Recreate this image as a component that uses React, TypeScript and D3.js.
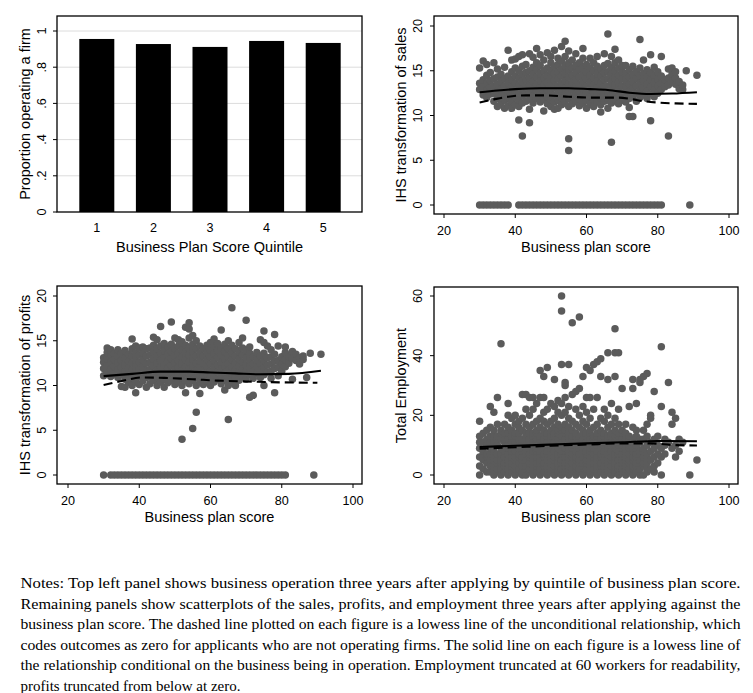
import React from 'react';
import * as d3 from 'd3';

// ---------- DATA ----------
const quintiles = ['1', '2', '3', '4', '5'];
const proportionOperating = [0.956, 0.928, 0.912, 0.945, 0.934];
const proportionTicks = [0, 0.2, 0.4, 0.6, 0.8, 1];
const proportionTickLabels = ['0', '.2', '.4', '.6', '.8', '1'];

const scoreTicks = [20, 40, 60, 80, 100];
const ihsTicks = [0, 5, 10, 15, 20];
const employmentTicks = [0, 20, 40, 60];

// business plan score : observed outcomes
const salesByScore = `
30:12.9,13.6,15.3,0
31:12.3,13.2,14.0,16.1,0
32:12.0,12.8,13.6,14.5,15.7,0
33:12.4,13.1,13.9,14.8,0
34:11.6,12.5,13.3,14.1,15.9,0
35:11.0,11.9,12.7,13.5,14.3,15.2,0
36:11.3,12.2,13.0,13.8,14.6,0
37:10.8,11.7,12.5,13.3,14.1,15.4,0
38:11.1,12.0,12.8,13.6,14.4,17.3,0
39:10.8,11.6,12.4,13.2,14.0,14.9,16.2
40:11.2,12.0,12.8,13.6,14.4,15.3,16.3
41:9.5,11.0,11.8,12.6,13.4,14.2,15.0,16.6,0
42:7.7,11.4,12.2,13.0,13.8,14.6,15.5,16.8,0
43:11.6,12.4,13.2,14.0,14.8,15.7,0
44:9.2,10.7,11.8,12.6,13.4,14.2,15.0,16.9,0
45:11.4,12.2,13.0,13.8,14.6,15.4,16.5,0
46:11.9,12.7,13.5,14.3,15.1,15.9,17.5,0
47:11.5,12.3,13.1,13.9,14.7,15.6,16.8,0
48:10.5,11.8,12.6,13.4,14.2,15.0,16.2,0
49:11.3,12.1,12.9,13.7,14.5,15.3,17.0,0
50:11.0,11.8,12.6,13.4,14.2,15.0,15.9,16.6,0
51:10.7,11.5,12.3,13.1,13.9,14.7,15.5,17.3,0
52:10.8,11.7,12.5,13.3,14.1,14.9,15.7,16.4,0
53:11.2,12.0,12.8,13.6,14.4,15.2,16.1,17.7,0
54:11.5,12.3,13.1,13.9,14.7,15.5,16.6,18.3,0
55:6.1,7.4,11.0,11.9,12.7,13.5,14.3,15.1,15.9,17.2,0
56:11.3,12.1,12.9,13.7,14.5,15.3,16.2,0
57:11.6,12.4,13.2,14.0,14.8,15.6,16.9,0
58:11.1,11.9,12.7,13.5,14.3,15.1,15.9,0
59:11.4,12.2,13.0,13.8,14.6,15.4,16.4,17.5,0
60:10.8,11.7,12.5,13.3,14.1,14.9,15.7,0
61:11.3,12.1,12.9,13.7,14.5,15.3,16.4,0
62:11.0,11.8,12.6,13.4,14.2,15.0,15.9,0
63:11.5,12.3,13.1,13.9,14.7,15.5,16.6,0
64:10.4,11.2,12.0,12.8,13.6,14.4,15.2,0
65:11.6,12.4,13.2,14.0,14.8,15.6,16.9,0
66:10.8,11.7,12.5,13.3,14.1,14.9,15.8,19.1,0
67:7.0,11.4,12.2,13.0,13.8,14.6,15.4,16.6,0
68:11.8,12.6,13.4,14.2,15.0,15.9,17.4,0
69:11.3,12.1,12.9,13.7,14.5,15.3,16.2,0
70:11.7,12.5,13.3,14.1,14.9,15.6,0
71:11.5,12.3,13.1,13.9,14.7,15.6,0
72:9.9,10.9,11.9,12.7,13.5,14.3,15.1,0
73:9.9,12.2,13.0,13.8,14.6,15.5,0
74:11.6,12.5,13.3,14.1,14.9,0
75:12.0,12.8,13.6,14.4,15.3,18.5,0
76:12.3,13.1,13.9,14.7,16.2,0
77:11.9,12.7,13.5,14.3,15.1,0
78:9.4,12.4,13.2,14.0,14.8,16.8,0
79:12.1,12.9,13.7,14.5,15.4,0
80:12.5,13.3,14.1,14.9,0
81:12.9,13.6,14.4,16.6,0
82:13.2,14.0
83:7.7,13.4,14.2,15.2
84:13.8,14.6,15.3
85:13.5,14.2,14.9
86:13.0,13.8
87:12.9,13.4
88:15.0
89:0
91:14.5
`;

const profitsByScore = `
30:11.1,11.9,12.6,13.1,0
31:11.4,12.2,13.0,13.7,14.2
32:11.0,11.8,12.6,13.4,14.0,0
33:11.3,12.1,12.9,13.6,0
34:10.9,11.7,12.5,13.3,14.0,0
35:9.9,11.2,12.0,12.8,13.6,0
36:9.8,10.7,11.5,12.3,13.1,13.9,0
37:10.3,11.1,11.9,12.7,13.5,0
38:10.0,10.9,11.7,12.5,13.3,14.1,15.2,0
39:9.2,10.4,11.2,12.0,12.8,13.6,14.4,0
40:10.1,11.0,11.8,12.6,13.4,14.2,0
41:10.5,11.3,12.1,12.9,13.7,14.3,0
42:9.8,10.9,11.7,12.5,13.3,14.1,0
43:10.2,11.0,11.8,12.6,13.4,14.2,0
44:10.6,11.4,12.2,13.0,13.8,14.5,15.4,0
45:10.0,10.9,11.7,12.5,13.3,14.1,15.1,0
46:10.4,11.2,12.0,12.8,13.6,14.4,16.6,0
47:9.8,10.7,11.5,12.3,13.1,13.9,14.7,0
48:10.3,11.1,11.9,12.7,13.5,14.3,0
49:10.6,11.4,12.2,13.0,13.8,14.6,17.1,0
50:10.1,10.9,11.7,12.5,13.3,14.1,15.3,0
51:10.4,11.2,12.0,12.8,13.6,14.4,15.1,0
52:4.0,10.0,10.8,11.6,12.4,13.2,14.0,14.9,0
53:9.2,10.5,11.3,12.1,12.9,13.7,14.5,16.5,0
54:10.2,11.0,11.8,12.6,13.4,14.2,15.3,16.3,17.0,0
55:5.2,10.6,11.4,12.2,13.0,13.8,14.6,15.6,0
56:7.0,10.0,10.9,11.7,12.5,13.3,14.1,15.0,0
57:9.1,10.4,11.2,12.0,12.8,13.6,14.4,0
58:10.1,10.9,11.7,12.5,13.3,14.1,0
59:10.5,11.3,12.1,12.9,13.7,14.5,0
60:10.0,10.8,11.6,12.4,13.2,14.0,14.8,0
61:10.4,11.2,12.0,12.8,13.6,14.4,15.2,0
62:10.7,11.5,12.3,13.1,13.9,14.7,0
63:10.2,11.0,11.8,12.6,13.4,14.2,16.2,0
64:9.5,10.6,11.4,12.2,13.0,13.8,14.6,0
65:6.2,10.0,10.9,11.7,12.5,13.3,14.1,15.0,0
66:10.5,11.3,12.1,12.9,13.7,14.5,18.7,0
67:10.0,10.9,11.7,12.5,13.3,14.1,0
68:10.6,11.4,12.2,13.0,13.8,14.8,0
69:11.0,11.8,12.6,13.4,14.2,15.3,0
70:10.7,11.5,12.3,13.1,13.9,17.3,0
71:8.7,11.2,12.0,12.8,13.6,14.3,0
72:8.9,10.8,11.6,12.4,13.2,0
73:11.3,12.1,12.9,13.7,0
74:10.9,11.7,12.5,13.3,15.1,0
75:10.0,11.2,12.0,12.8,13.6,14.8,16.1,0
76:11.5,12.3,13.1,14.4,0
77:10.8,11.6,12.4,13.2,14.0,0
78:9.2,11.9,12.7,13.5,15.7,0
79:11.1,12.0,12.8,14.4,0
80:11.6,12.4,13.2,0
81:12.1,12.9,13.7,14.3,0
82:12.5,13.2
83:10.7,13.0,13.8
84:12.8,13.5
85:12.4,13.1
86:12.9,13.3
87:10.9
88:13.6
89:0
91:13.5
`;

const employmentByScore = `
30:0,3,6,9,11,13,18
31:2,5,7,8,11,14
32:1,4,6,7,10,12,15
33:1,3,5,7,9,11,13,16,23
34:0,2,3,5,6,8,11,13,15,21
35:1,2,4,5,7,10,12,13,17,26
36:0,2,4,5,7,9,12,14,15,44
37:1,3,4,6,8,11,12,14,17
38:0,2,4,5,7,9,10,12,14,16,20,24
39:1,3,4,6,8,9,11,13,15,19
40:0,2,3,5,6,8,10,11,13,14,17,20
41:1,2,4,6,7,9,10,12,14,16,18
42:0,1,3,5,6,8,9,11,12,15,19,27
43:0,2,3,5,7,8,10,12,13,14,17,22,27
44:1,2,4,6,7,9,11,12,14,16,20,26
45:0,2,3,5,6,8,10,11,13,14,17,22,26
46:1,3,4,6,8,9,11,12,14,15,18,24
47:0,2,4,5,7,8,10,12,13,16,19,26,35
48:1,3,4,6,7,9,11,12,14,15,18,21,26,33
49:0,2,3,5,7,8,10,11,13,14,17,22,36
50:1,2,4,6,7,9,10,12,13,15,18,24
51:0,2,3,5,6,8,10,11,13,14,16,19,23,32
52:1,3,4,6,7,9,11,12,14,15,17,21,25
53:0,2,4,5,7,8,10,12,13,15,16,20,24,37,55,60
54:1,3,4,6,8,9,11,12,14,15,17,21,26,30,31
55:0,2,3,5,7,8,10,11,13,14,16,19,23,37
56:1,2,4,6,7,9,10,12,13,15,18,27,51
57:0,2,3,5,6,8,10,11,13,14,17,22,28
58:1,2,4,5,7,9,10,12,13,16,20,29,53
59:0,3,4,6,8,9,11,12,14,15,18,23,33
60:1,2,4,5,7,8,10,11,13,14,17,21,26,36
61:0,2,3,5,6,8,9,11,12,14,15,19,26,35
62:1,2,4,6,7,9,10,12,13,16,22,37
63:0,2,3,5,6,8,10,11,13,14,17,26,38
64:1,3,4,6,7,9,11,12,14,15,19,33,39
65:0,2,3,5,7,8,10,11,13,14,18,22
66:1,2,4,5,7,9,10,12,13,16,20,32,41
67:0,2,3,5,6,8,10,11,13,14,17,24
68:1,3,4,6,7,9,10,12,13,15,19,33,41,49
69:0,2,3,5,7,8,10,11,13,14,17,22,41
70:1,2,4,5,7,9,10,12,14,15,29
71:0,2,3,5,6,8,9,11,12,14,17
72:1,2,4,5,7,9,10,12,13,23
73:0,2,3,5,6,8,9,11,12,16,29,32
74:1,3,4,6,7,9,10,13,15,24
75:0,2,4,5,7,8,11,12,31,32
76:0,3,4,6,8,9,12,15,33
77:1,2,4,6,7,10,13,17,34
78:2,5,8,11,19,20
79:1,3,6,9,12,28
80:4,7,10,13
81:0,6,9,23,43
82:7,10,12
83:11,31
84:9,17,21
85:6,10,19
86:8,12
87:11
89:0
91:5
`;

// lowess lines (conditional = solid, unconditional = dashed)
const salesSolidX = [30, 35, 40, 47, 55, 61, 66, 72, 78, 84, 91];
const salesSolidY = [12.6, 12.8, 12.95, 13.05, 13.05, 12.95, 12.85, 12.55, 12.4, 12.45, 12.6];
const salesDashedX = [30, 34, 38, 43, 48, 55, 61, 69, 73, 76, 80, 85, 91];
const salesDashedY = [11.45, 11.8, 12.1, 12.25, 12.25, 12.1, 12.0, 12.0, 11.8, 11.6, 11.45, 11.35, 11.3];

const profitsSolidX = [30, 38, 46, 54, 60, 67, 74, 82, 91];
const profitsSolidY = [11.05, 11.3, 11.55, 11.55, 11.45, 11.35, 11.25, 11.3, 11.65];
const profitsDashedX = [30, 35, 41, 47, 55, 62, 70, 80, 90];
const profitsDashedY = [10.05, 10.5, 10.9, 10.85, 10.7, 10.55, 10.45, 10.35, 10.3];

const employmentSolidX = [30, 40, 50, 60, 70, 80, 91];
const employmentSolidY = [9.4, 9.8, 10.2, 10.6, 11.0, 11.4, 11.3];
const employmentDashedX = [30, 40, 50, 60, 70, 78, 85, 91];
const employmentDashedY = [8.8, 9.3, 9.8, 10.2, 10.6, 10.6, 10.0, 9.9];

const notesLines = [
  'Notes: Top left panel shows business operation three years after applying by quintile of business plan score.',
  'Remaining panels show scatterplots of the sales, profits, and employment three years after applying against the',
  'business plan score. The dashed line plotted on each figure is a lowess line of the unconditional relationship, which',
  'codes outcomes as zero for applicants who are not operating firms. The solid line on each figure is a lowess line of',
  'the relationship conditional on the business being in operation. Employment truncated at 60 workers for readability,',
  'profits truncated from below at zero.',
];

// ---------- HELPERS ----------
type Pt = { x: number; y: number };
function parseCols(s: string): Pt[] {
  return s
    .trim()
    .split('\n')
    .flatMap((line) => {
      const [x, ys] = line.split(':');
      return ys.split(',').map((y) => ({ x: +x, y: +y }));
    });
}
function zip(xs: number[], ys: number[]): Pt[] {
  return xs.map((x, i) => ({ x, y: ys[i] }));
}

const SANS = 'Liberation Sans, Arial, Helvetica, sans-serif';
const SERIF = 'Liberation Serif, Times New Roman, serif';
const DOT = '#5b5b5b';
const TICK_FS = 12.6;
const TITLE_FS = 14.5;

type Frame = { x0: number; x1: number; y0: number; y1: number };

function YAxis({ frame, scale, ticks, labels, labelX, title, titleX }: any) {
  const cy = (frame.y0 + frame.y1) / 2;
  return (
    <g>
      {ticks.map((t: number, i: number) => (
        <g key={t}>
          <line x1={frame.x0 - 4} x2={frame.x0} y1={scale(t)} y2={scale(t)} stroke="#000" strokeWidth={1} />
          <text
            transform={`translate(${labelX},${scale(t)}) rotate(-90)`}
            textAnchor="middle"
            fontFamily={SANS}
            fontSize={TICK_FS}
            fill="#000"
          >
            {labels ? labels[i] : String(t)}
          </text>
        </g>
      ))}
      <text
        transform={`translate(${titleX},${cy}) rotate(-90)`}
        textAnchor="middle"
        fontFamily={SANS}
        fontSize={TITLE_FS}
        fill="#000"
      >
        {title}
      </text>
    </g>
  );
}

function ScatterPanel({
  frame,
  xRange,
  yDomain,
  yRange,
  yTicks,
  points,
  solid,
  dashed,
  yTitle,
  leftLabelX,
  leftTitleX,
}: any) {
  const x = d3.scaleLinear().domain([20, 100]).range(xRange);
  const y = d3.scaleLinear().domain(yDomain).range(yRange);
  const line = d3
    .line<Pt>()
    .x((d) => x(d.x))
    .y((d) => y(d.y))
    .curve(d3.curveMonotoneX);
  const f: Frame = frame;
  return (
    <g>
      {points.map((p: Pt, i: number) => (
        <circle key={i} cx={x(p.x)} cy={y(p.y)} r={3.75} fill={DOT} />
      ))}
      <path d={line(solid) || ''} fill="none" stroke="#000" strokeWidth={2.1} />
      <path d={line(dashed) || ''} fill="none" stroke="#000" strokeWidth={2.1} strokeDasharray="9,5" />
      <rect x={f.x0} y={f.y0} width={f.x1 - f.x0} height={f.y1 - f.y0} fill="none" stroke="#000" strokeWidth={1.3} />
      {scoreTicks.map((t) => (
        <g key={t}>
          <line x1={x(t)} x2={x(t)} y1={f.y1} y2={f.y1 + 4} stroke="#000" strokeWidth={1} />
          <text x={x(t)} y={f.y1 + 20.5} textAnchor="middle" fontFamily={SANS} fontSize={TICK_FS} fill="#000">
            {t}
          </text>
        </g>
      ))}
      <text
        x={(f.x0 + f.x1) / 2}
        y={f.y1 + 38}
        textAnchor="middle"
        fontFamily={SANS}
        fontSize={TITLE_FS}
        fill="#000"
      >
        Business plan score
      </text>
      <YAxis frame={f} scale={y} ticks={yTicks} labelX={leftLabelX} title={yTitle} titleX={leftTitleX} />
    </g>
  );
}

function BarPanel() {
  const frame: Frame = { x0: 57, x1: 362, y0: 16, y1: 212 };
  const x = d3.scalePoint<string>().domain(quintiles).range([96.8, 323.2]);
  const y = d3.scaleLinear().domain([0, 1]).range([212, 31]);
  const barW = 35;
  return (
    <g>
      {proportionTicks.slice(1).map((t) => (
        <line key={t} x1={frame.x0} x2={frame.x1} y1={y(t)} y2={y(t)} stroke="#dcdcdc" strokeWidth={1} />
      ))}
      {quintiles.map((q, i) => (
        <rect
          key={q}
          x={(x(q) as number) - barW / 2}
          y={y(proportionOperating[i])}
          width={barW}
          height={y(0) - y(proportionOperating[i])}
          fill="#000"
        />
      ))}
      <rect
        x={frame.x0}
        y={frame.y0}
        width={frame.x1 - frame.x0}
        height={frame.y1 - frame.y0}
        fill="none"
        stroke="#000"
        strokeWidth={1.3}
      />
      {quintiles.map((q) => (
        <text key={q} x={x(q)} y={232} textAnchor="middle" fontFamily={SANS} fontSize={TICK_FS} fill="#000">
          {q}
        </text>
      ))}
      <text
        x={(frame.x0 + frame.x1) / 2}
        y={252}
        textAnchor="middle"
        fontFamily={SANS}
        fontSize={TITLE_FS}
        fill="#000"
      >
        Business Plan Score Quintile
      </text>
      <YAxis
        frame={frame}
        scale={y}
        ticks={proportionTicks}
        labels={proportionTickLabels}
        labelX={46}
        title="Proportion operating a firm"
        titleX={30}
      />
    </g>
  );
}

export default function App() {
  const sales = parseCols(salesByScore);
  const profits = parseCols(profitsByScore);
  const employment = parseCols(employmentByScore);
  const notesY = [588, 608.6, 629.2, 649.8, 670.4, 690.5];
  return (
    <svg
      width={753}
      height={693}
      viewBox="0 0 753 693"
      style={{ position: 'absolute', left: 0, top: 0, background: '#fff' }}
    >
      <rect x={0} y={0} width={753} height={693} fill="#fff" />
      <BarPanel />
      <ScatterPanel
        frame={{ x0: 434, x1: 738, y0: 16, y1: 214 }}
        xRange={[444, 729]}
        yDomain={[0, 20]}
        yRange={[205, 26]}
        yTicks={ihsTicks}
        points={sales}
        solid={zip(salesSolidX, salesSolidY)}
        dashed={zip(salesDashedX, salesDashedY)}
        yTitle="IHS transformation of sales"
        leftLabelX={422}
        leftTitleX={406}
      />
      <ScatterPanel
        frame={{ x0: 57, x1: 362, y0: 286, y1: 484 }}
        xRange={[68, 353]}
        yDomain={[0, 20]}
        yRange={[475, 296]}
        yTicks={ihsTicks}
        points={profits}
        solid={zip(profitsSolidX, profitsSolidY)}
        dashed={zip(profitsDashedX, profitsDashedY)}
        yTitle="IHS transformation of profits"
        leftLabelX={46}
        leftTitleX={30}
      />
      <ScatterPanel
        frame={{ x0: 434, x1: 738, y0: 287, y1: 484 }}
        xRange={[444, 729]}
        yDomain={[0, 60]}
        yRange={[475, 296]}
        yTicks={employmentTicks}
        points={employment}
        solid={zip(employmentSolidX, employmentSolidY)}
        dashed={zip(employmentDashedX, employmentDashedY)}
        yTitle="Total Employment"
        leftLabelX={422}
        leftTitleX={406}
      />
      {notesLines.map((t, i) => (
        <text
          key={i}
          x={20.5}
          y={notesY[i]}
          fontFamily={SERIF}
          fontSize={15}
          fill="#000"
          textLength={i < notesLines.length - 1 ? 720 : 220}
          lengthAdjust="spacingAndGlyphs"
        >
          {t}
        </text>
      ))}
    </svg>
  );
}
